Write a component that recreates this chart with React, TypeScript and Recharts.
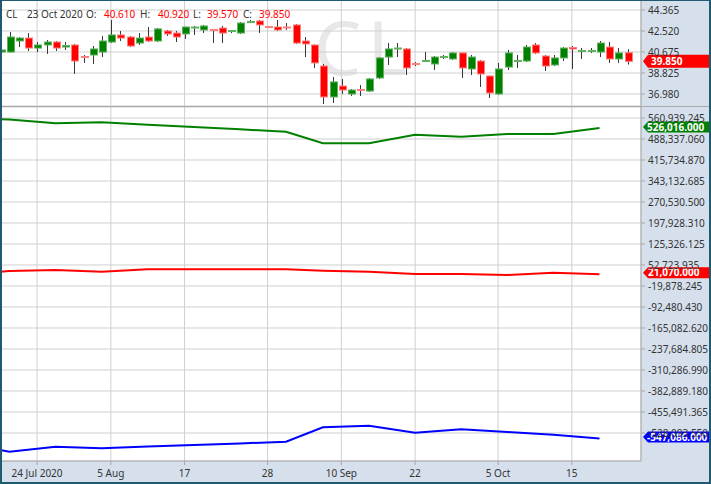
import React from 'react';
import { ComposedChart, Bar, Line, XAxis, YAxis, CartesianGrid, ReferenceLine } from 'recharts';

const symbol = 'CL';

const dates = [
  '2020-07-20', '2020-07-21', '2020-07-22', '2020-07-23', '2020-07-24', '2020-07-27', '2020-07-28', '2020-07-29', '2020-07-30', '2020-07-31',
  '2020-08-03', '2020-08-04', '2020-08-05', '2020-08-06', '2020-08-07', '2020-08-10', '2020-08-11', '2020-08-12', '2020-08-13', '2020-08-14',
  '2020-08-17', '2020-08-18', '2020-08-19', '2020-08-20', '2020-08-21', '2020-08-24', '2020-08-25', '2020-08-26', '2020-08-27', '2020-08-28',
  '2020-08-31', '2020-09-01', '2020-09-02', '2020-09-03', '2020-09-04', '2020-09-08', '2020-09-09', '2020-09-10', '2020-09-11', '2020-09-14',
  '2020-09-15', '2020-09-16', '2020-09-17', '2020-09-18', '2020-09-21', '2020-09-22', '2020-09-23', '2020-09-24', '2020-09-25', '2020-09-28',
  '2020-09-29', '2020-09-30', '2020-10-01', '2020-10-02', '2020-10-05', '2020-10-06', '2020-10-07', '2020-10-08', '2020-10-09', '2020-10-12',
  '2020-10-13', '2020-10-14', '2020-10-15', '2020-10-16', '2020-10-19', '2020-10-20', '2020-10-21', '2020-10-22', '2020-10-23',
];

const opens = [
  40.67, 40.67, 41.64, 41.90, 41.02, 41.29, 41.55, 41.11, 41.29, 40.28,
  40.41, 40.67, 41.55, 42.17, 41.99, 41.46, 41.99, 41.64, 42.52, 42.34,
  42.26, 42.78, 42.61, 42.65, 42.78, 42.48, 42.34, 43.27, 43.40, 42.91,
  42.87, 42.87, 43.05, 41.64, 41.29, 39.44, 36.72, 37.68, 36.98, 37.38,
  37.24, 38.39, 40.23, 40.94, 40.94, 39.66, 39.84, 39.62, 40.19, 40.06,
  40.59, 39.18, 39.88, 38.56, 36.98, 39.35, 39.84, 39.88, 41.29, 40.32,
  39.53, 40.15, 41.07, 40.72, 40.72, 40.67, 41.11, 40.06, 40.61,
];
const highs = [
  41.02, 42.43, 41.99, 42.34, 41.55, 41.73, 41.64, 41.55, 41.38, 40.41,
  41.20, 42.08, 43.49, 42.52, 42.08, 42.34, 42.87, 42.78, 42.61, 42.52,
  42.90, 42.96, 43.05, 42.70, 42.96, 42.61, 43.31, 43.49, 43.49, 42.96,
  43.49, 43.22, 43.13, 41.99, 41.33, 39.62, 38.48, 38.30, 37.42, 37.77,
  38.39, 40.23, 41.46, 41.46, 41.02, 39.79, 40.67, 40.32, 40.41, 40.67,
  40.62, 40.41, 39.97, 38.60, 39.71, 40.85, 40.41, 41.29, 41.46, 40.41,
  40.41, 41.11, 41.20, 41.02, 41.02, 41.64, 41.55, 41.02, 40.92,
];
const lows = [
  39.79, 40.62, 41.11, 40.76, 40.67, 40.50, 40.76, 40.85, 38.74, 39.71,
  39.62, 40.23, 41.46, 41.64, 41.11, 41.29, 41.55, 41.55, 42.08, 41.55,
  41.82, 42.17, 42.34, 41.46, 41.46, 42.34, 42.26, 43.22, 42.34, 42.78,
  42.52, 42.61, 41.38, 40.23, 39.27, 36.10, 36.19, 36.98, 36.81, 36.81,
  37.16, 38.30, 39.53, 40.23, 38.65, 39.44, 39.79, 39.09, 40.06, 39.97,
  38.39, 38.65, 37.60, 36.63, 36.89, 39.09, 39.27, 39.79, 40.50, 39.00,
  39.44, 39.88, 39.18, 40.06, 40.59, 40.23, 39.71, 39.71, 39.57,
];
const closes = [
  40.85, 41.99, 41.90, 41.02, 41.29, 41.55, 41.02, 41.24, 39.88, 40.19,
  40.94, 41.64, 42.17, 41.90, 41.20, 41.90, 41.64, 42.70, 42.26, 41.99,
  42.87, 42.87, 42.96, 42.56, 42.34, 42.56, 43.22, 43.35, 43.05, 42.83,
  42.61, 42.83, 41.46, 41.38, 39.71, 36.72, 38.04, 37.33, 37.33, 37.29,
  38.30, 40.15, 40.94, 41.02, 39.27, 39.57, 39.93, 40.23, 40.28, 40.59,
  39.27, 40.23, 38.74, 37.07, 39.18, 40.59, 39.93, 41.11, 40.59, 39.44,
  40.15, 41.02, 40.94, 40.81, 40.81, 41.46, 40.06, 40.59, 39.85,
];

const tickDates = ['2020-07-24', '2020-08-05', '2020-08-17', '2020-08-28', '2020-09-10', '2020-09-22', '2020-10-05', '2020-10-15'];
const tickLabels = ['24 Jul 2020', '5 Aug', '17', '28', '10 Sep', '22', '5 Oct', '15'];

const priceTicks = [36.98, 38.825, 40.675, 42.52, 44.365];

const cotDates = [
  '2020-07-20', '2020-07-21', '2020-07-28', '2020-08-04', '2020-08-11', '2020-08-18', '2020-08-25', '2020-09-01',
  '2020-09-08', '2020-09-15', '2020-09-22', '2020-09-29', '2020-10-06', '2020-10-13', '2020-10-20',
];
const nonCommercial = [556444, 555407, 542615, 546073, 537948, 529823, 521699, 513574, 473469, 473469, 503202, 496287, 505622, 505622, 526016];
const nonReportable = [29550, 31980, 35430, 29550, 37850, 37850, 37850, 37850, 33010, 29550, 21600, 21600, 18140, 26090, 21070];
const commercial = [-586885, -592762, -575476, -581007, -575130, -569598, -564066, -558189, -508404, -502872, -527073, -515318, -524653, -533988, -547086];

const cotTicks = [
  560939.245, 488337.06, 415734.87, 343132.685, 270530.5, 197928.31, 125326.125, 52723.935,
  -19878.245, -92480.43, -165082.62, -237684.805, -310286.99, -382889.18, -455491.365, -528093.55,
];

const AXIS_BG = '#d6e0ed';
const GRID = '#cfcfcf';
const AXIS_LINE = '#a8a8a8';
const TEXT = '#333333';
const FONT = '"Noto Sans", "Open Sans", sans-serif';
const X_DOMAIN = [-0.02, 69.5];
const PRICE_DOMAIN = [35.925, 45.244];
const COT_DOMAIN = [-624897, 598969];

const rows = dates.map((d, i) => ({ i, date: d, open: opens[i], high: highs[i], low: lows[i], close: closes[i] }));
const cotRows = cotDates.map((d, k) => ({
  i: dates.indexOf(d),
  nonCommercial: nonCommercial[k],
  nonReportable: nonReportable[k],
  commercial: commercial[k],
}));
const tickIndex = tickDates.map((d) => dates.indexOf(d));
const labelFor = (v) => {
  const k = tickIndex.indexOf(v);
  return k >= 0 ? tickLabels[k] : '';
};

const MONTHS = ['Jan', 'Feb', 'Mar', 'Apr', 'May', 'Jun', 'Jul', 'Aug', 'Sep', 'Oct', 'Nov', 'Dec'];
const fmtDate = (iso) => {
  const [y, m, d] = iso.split('-').map(Number);
  return `${d} ${MONTHS[m - 1]} ${y}`;
};
const fmt3 = (v) => Number(v).toLocaleString('en-US', { minimumFractionDigits: 3, maximumFractionDigits: 3 });

const Candle = (props) => {
  const { x, y, width, height, payload } = props;
  if (x == null || y == null) return null;
  const top = Math.min(y, y + height);
  const bot = Math.max(y, y + height);
  const { open, close, high, low } = payload;
  const range = high - low;
  const py = (v) => (range === 0 ? top : top + ((high - v) / range) * (bot - top));
  const up = close >= open;
  const bTop = py(Math.max(open, close));
  const bBot = py(Math.min(open, close));
  const cx = Math.round(x + width / 2) + 0.5;
  const left = Math.round(cx - 4) + 0.5;
  return (
    <g>
      <line x1={cx} x2={cx} y1={top} y2={bot} stroke="#383838" strokeWidth={1} />
      <rect
        x={left}
        y={bTop}
        width={7}
        height={Math.max(bBot - bTop, 1)}
        fill={up ? '#008000' : '#ff0000'}
        stroke={up ? '#5fb35f' : '#ff7f7f'}
        strokeWidth={1}
      />
    </g>
  );
};

const makeBadge = (text, color, h, textDx, dy) => (props) => {
  const vb = props.viewBox || {};
  const x0 = vb.x + vb.width + 2;
  const y = vb.y + dy;
  const pts = `${x0},${y} ${x0 + 5},${y - h / 2} 711,${y - h / 2} 711,${y + h / 2} ${x0 + 5},${y + h / 2}`;
  return (
    <g>
      <polygon points={pts} fill={color} />
      <text x={x0 + textDx} y={y} dy="0.36em" fill="#ffffff" fontSize={10} fontWeight="bold" fontFamily={FONT}>
        {text}
      </text>
    </g>
  );
};

const last = rows[rows.length - 1];
const lastCot = cotRows[cotRows.length - 1];

const tickStyle = { fill: TEXT, fontSize: 10, fontFamily: FONT };

export default function App() {
  const header = [
    { t: symbol, x: 6, c: TEXT },
    { t: fmtDate(last.date), x: 27, c: TEXT },
    { t: 'O:', x: 86, c: TEXT },
    { t: last.open.toFixed(3), x: 104, c: '#ff0000' },
    { t: 'H:', x: 140, c: TEXT },
    { t: last.high.toFixed(3), x: 158, c: '#ff0000' },
    { t: 'L:', x: 193, c: TEXT },
    { t: last.low.toFixed(3), x: 207, c: '#ff0000' },
    { t: 'C:', x: 243, c: TEXT },
    { t: last.close.toFixed(3), x: 259, c: '#ff0000' },
  ];
  return (
    <div style={{ position: 'fixed', left: 0, top: 0, width: 711, height: 484, background: '#fff', overflow: 'hidden', fontFamily: FONT }}>
      <div style={{ position: 'absolute', left: 641, top: 0, width: 70, height: 484, background: AXIS_BG }} />
      <div style={{ position: 'absolute', left: 0, top: 461, width: 711, height: 23, background: AXIS_BG }} />
      <svg style={{ position: 'absolute', left: 0, top: 0 }} width={641} height={106}>
        <text x={314} y={75} fontSize={75} letterSpacing={6} fill="#e8e8e8" fontFamily={FONT}>{symbol}</text>
      </svg>
      <div style={{ position: 'absolute', left: 0, top: 0 }}>
        <ComposedChart width={711} height={106} data={rows} margin={{ top: 0, right: 0, bottom: 0, left: 0 }}>
          <CartesianGrid stroke={GRID} />
          <XAxis dataKey="i" type="number" domain={X_DOMAIN} ticks={tickIndex} allowDataOverflow hide />
          <YAxis
            orientation="right"
            width={70}
            domain={PRICE_DOMAIN}
            ticks={priceTicks}
            interval={0}
            allowDataOverflow
            tickFormatter={(v) => v.toFixed(3)}
            tick={tickStyle}
            tickSize={4}
            tickMargin={3}
            axisLine={{ stroke: AXIS_LINE }}
            tickLine={{ stroke: AXIS_LINE }}
          />
          <Bar dataKey={(d) => [d.low, d.high]} shape={Candle} barSize={8} isAnimationActive={false} />
          <ReferenceLine y={last.close} stroke="none" label={makeBadge(last.close.toFixed(3), '#ff0000', 13, 8, 0)} />
        </ComposedChart>
      </div>
      <div style={{ position: 'absolute', left: 0, top: 106, width: 711, height: 1, background: '#a8a8a8' }} />
      <div style={{ position: 'absolute', left: 0, top: 107 }}>
        <ComposedChart width={711} height={377} data={cotRows} margin={{ top: 0, right: 0, bottom: 0, left: 0 }}>
          <CartesianGrid stroke={GRID} />
          <XAxis
            dataKey="i"
            type="number"
            domain={X_DOMAIN}
            ticks={tickIndex}
            interval={0}
            allowDataOverflow
            height={23}
            tickFormatter={labelFor}
            tick={tickStyle}
            tickSize={4}
            tickMargin={5}
            axisLine={{ stroke: AXIS_LINE }}
            tickLine={{ stroke: AXIS_LINE }}
          />
          <YAxis
            orientation="right"
            width={70}
            domain={COT_DOMAIN}
            ticks={cotTicks}
            interval={0}
            allowDataOverflow
            tickFormatter={fmt3}
            tick={tickStyle}
            tickSize={4}
            tickMargin={3}
            axisLine={{ stroke: AXIS_LINE }}
            tickLine={{ stroke: AXIS_LINE }}
          />
          <Line type="linear" dataKey="nonCommercial" stroke="#008000" strokeWidth={2} dot={false} isAnimationActive={false} />
          <Line type="linear" dataKey="nonReportable" stroke="#ff0000" strokeWidth={2} dot={false} isAnimationActive={false} />
          <Line type="linear" dataKey="commercial" stroke="#0000ff" strokeWidth={2} dot={false} isAnimationActive={false} />
          <ReferenceLine y={lastCot.nonCommercial} stroke="none" label={makeBadge(fmt3(lastCot.nonCommercial), '#008000', 11, 4, -1)} />
          <ReferenceLine y={lastCot.nonReportable} stroke="none" label={makeBadge(fmt3(lastCot.nonReportable), '#ff0000', 11, 5, -1.5)} />
          <ReferenceLine y={lastCot.commercial} stroke="none" label={makeBadge(fmt3(lastCot.commercial), '#0000ff', 11, 4, -1.5)} />
        </ComposedChart>
      </div>
      <svg style={{ position: 'absolute', left: 0, top: 0 }} width={400} height={24}>
        {header.map((h) => (
          <text key={h.x} x={h.x} y={17.5} fontSize={10} fill={h.c} fontFamily={FONT}>{h.t}</text>
        ))}
      </svg>
      <div style={{ position: 'absolute', left: 0, top: 0, width: 711, height: 484, boxSizing: 'border-box', border: '2px solid #1f5a70', borderTopWidth: 1, pointerEvents: 'none' }} />
    </div>
  );
}
